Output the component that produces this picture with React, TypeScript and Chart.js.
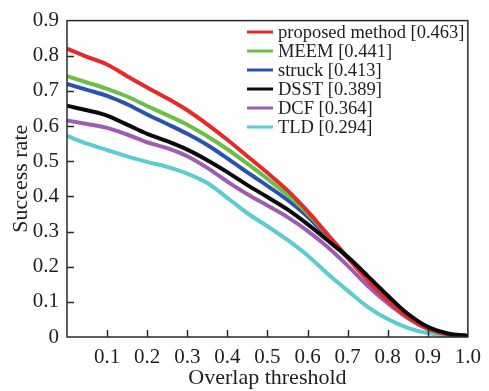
import React, { useEffect, useRef } from "react";
import { Chart, registerables } from "chart.js";

Chart.register(...registerables);

const thresholds = [0, 0.05, 0.1, 0.15, 0.2, 0.25, 0.3, 0.35, 0.4, 0.45, 0.5, 0.55, 0.6, 0.65, 0.7, 0.75, 0.8, 0.85, 0.9, 0.95, 1.0];

const proposed = [0.82, 0.797, 0.775, 0.742, 0.71, 0.679, 0.645, 0.605, 0.561, 0.514, 0.467, 0.417, 0.358, 0.292, 0.226, 0.162, 0.104, 0.056, 0.024, 0.008, 0.002];
const meem = [0.742, 0.724, 0.706, 0.684, 0.657, 0.631, 0.604, 0.571, 0.534, 0.493, 0.45, 0.404, 0.352, 0.29, 0.227, 0.163, 0.105, 0.057, 0.024, 0.008, 0.003];
const struck = [0.72, 0.703, 0.686, 0.662, 0.633, 0.606, 0.578, 0.546, 0.508, 0.468, 0.43, 0.39, 0.343, 0.285, 0.225, 0.163, 0.106, 0.058, 0.025, 0.008, 0.003];
const dsst = [0.658, 0.645, 0.63, 0.604, 0.578, 0.557, 0.533, 0.503, 0.469, 0.432, 0.398, 0.363, 0.321, 0.275, 0.228, 0.174, 0.118, 0.066, 0.029, 0.01, 0.003];
const dcf = [0.616, 0.606, 0.595, 0.576, 0.554, 0.537, 0.514, 0.481, 0.442, 0.406, 0.374, 0.341, 0.302, 0.256, 0.203, 0.146, 0.096, 0.054, 0.023, 0.008, 0.003];
const tld = [0.572, 0.55, 0.532, 0.514, 0.498, 0.484, 0.465, 0.438, 0.396, 0.352, 0.315, 0.276, 0.232, 0.18, 0.132, 0.086, 0.051, 0.026, 0.011, 0.004, 0.002];

const seriesNames = ["proposed method [0.463]", "MEEM [0.441]", "struck [0.413]", "DSST [0.389]", "DCF [0.364]", "TLD [0.294]"];
const seriesData = [proposed, meem, struck, dsst, dcf, tld];
const seriesColors = ["#e52a2a", "#6cbf45", "#2b52b0", "#0a0a0a", "#a05bb4", "#5ccbd2"];
const seriesOrder = [1, 2, 3, 0, 4, 5];

const yTicks = [0, 0.1, 0.2, 0.3, 0.4, 0.5, 0.6, 0.7, 0.8, 0.9];
const xTicks = [0, 0.1, 0.2, 0.3, 0.4, 0.5, 0.6, 0.7, 0.8, 0.9, 1.0];

const FONT = "'Liberation Serif', 'Times New Roman', serif";
const TEXT = "#1e1e1e";

const framePlugin = {
  id: "frameAndTicks",
  afterDraw(chart: any) {
    const { ctx, chartArea } = chart;
    const { left, right, top, bottom } = chartArea;
    ctx.save();
    ctx.strokeStyle = "#2a2a2a";
    ctx.lineWidth = 1.5;
    ctx.strokeRect(left, top, right - left, bottom - top);
    const xs = chart.scales.x;
    const ys = chart.scales.y;
    ctx.beginPath();
    xTicks.forEach((v) => {
      if (v <= 0 || v >= 1) return;
      const px = Math.round(xs.getPixelForValue(v)) + 0.5;
      ctx.moveTo(px, bottom);
      ctx.lineTo(px, bottom - 7);
    });
    yTicks.forEach((v) => {
      if (v <= 0 || v >= 0.9) return;
      const py = Math.round(ys.getPixelForValue(v)) + 0.5;
      ctx.moveTo(left, py);
      ctx.lineTo(left + 7, py);
    });
    ctx.stroke();

    // legend
    const lx = 247;
    const ly = 32;
    const step = 19;
    ctx.font = `18.5px ${FONT}`;
    ctx.textBaseline = "middle";
    ctx.textAlign = "left";
    seriesNames.forEach((name, i) => {
      const y = ly + i * step;
      ctx.strokeStyle = seriesColors[i];
      ctx.lineWidth = 3;
      ctx.beginPath();
      ctx.moveTo(lx, y);
      ctx.lineTo(lx + 26, y);
      ctx.stroke();
      ctx.fillStyle = TEXT;
      ctx.fillText(name, lx + 31, y + 1);
    });
    ctx.restore();
  },
};

export default function App() {
  const ref = useRef<HTMLCanvasElement | null>(null);
  useEffect(() => {
    if (!ref.current) return;
    const chart = new Chart(ref.current, {
      type: "line",
      data: {
        datasets: seriesData.map((d, i) => ({
          label: seriesNames[i],
          data: d.map((v, j) => ({ x: thresholds[j], y: v })),
          borderColor: seriesColors[i],
          backgroundColor: seriesColors[i],
          borderWidth: 4,
          pointRadius: 0,
          cubicInterpolationMode: "monotone" as const,
          fill: false,
          order: seriesOrder[i],
        })),
      },
      options: {
        animation: false,
        responsive: false,
        maintainAspectRatio: false,
        layout: { padding: { top: 16, right: 16, left: 0, bottom: 0 } },
        plugins: { legend: { display: false }, tooltip: { enabled: false } },
        scales: {
          x: {
            type: "linear",
            min: 0,
            max: 1,
            afterBuildTicks: (s: any) => {
              s.ticks = xTicks.map((v) => ({ value: v }));
            },
            afterFit: (s: any) => {
              s.height = 54;
            },
            grid: { display: false, drawTicks: false },
            border: { display: false },
            ticks: {
              padding: 8,
              color: TEXT,
              font: { family: FONT, size: 21 },
              maxRotation: 0,
              autoSkip: false,
              callback: (v: any) => (v === 0 ? "" : Number(v).toFixed(1)),
            },
            title: {
              display: true,
              text: "Overlap threshold",
              color: TEXT,
              font: { family: FONT, size: 22 },
              padding: { top: 0, bottom: 0 },
            },
          },
          y: {
            type: "linear",
            min: 0,
            max: 0.9,
            afterBuildTicks: (s: any) => {
              s.ticks = yTicks.map((v) => ({ value: v }));
            },
            afterFit: (s: any) => {
              s.width = 67;
            },
            grid: { display: false, drawTicks: false },
            border: { display: false },
            ticks: {
              padding: 8,
              color: TEXT,
              font: { family: FONT, size: 21 },
              autoSkip: false,
              callback: (v: any) => (v === 0 ? "0" : Number(v).toFixed(1)),
            },
            title: {
              display: true,
              text: "Success rate",
              color: TEXT,
              font: { family: FONT, size: 22 },
              padding: { top: 8, bottom: 0 },
            },
          },
        },
      },
      plugins: [framePlugin],
    });
    return () => chart.destroy();
  }, []);
  return (
    <div style={{ position: "absolute", left: 0, top: 0, width: 489, height: 391, background: "#fff" }}>
      <canvas ref={ref} width={489} height={391} style={{ width: 489, height: 391 }} />
    </div>
  );
}
